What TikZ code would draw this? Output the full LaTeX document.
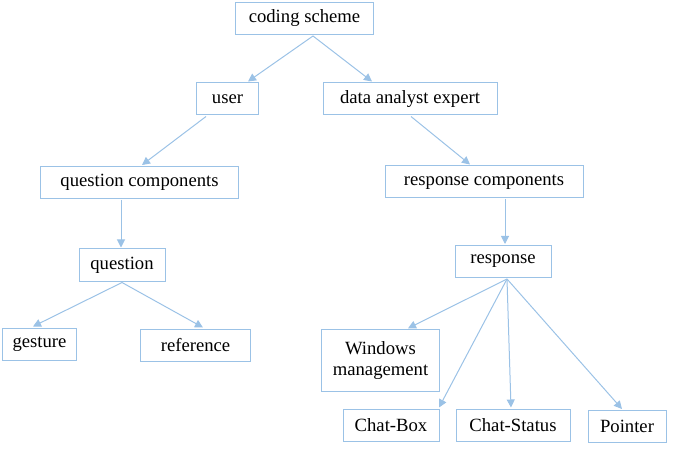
\documentclass[tikz,border=0pt]{standalone}
\usepackage{fontspec}
\setmainfont{Liberation Serif}
\usepackage{tikz}
\usetikzlibrary{arrows.meta,calc}
\definecolor{boxblue}{RGB}{155,194,230}

\begin{document}
\begin{tikzpicture}
[x=0.75pt,y=-0.75pt,->,>={Triangle[length=6pt,width=6pt]},line width=0.75pt,
  box/.style={draw=boxblue,rectangle,inner sep=0pt,align=center,
    font=\fontsize{14}{16}\selectfont,minimum height=24pt}]
  \useasboundingbox (0,0) rectangle (675,449);

  \node[box,minimum width=103pt] (cs) at (304.5,18.5) {coding scheme};

  \node[box,minimum width=46pt] (user) at (227.5,99) {user};
  \node[box,minimum width=130.5pt] (dae) at (410,99) {data analyst expert};

  \node[box,minimum width=149pt] (qc) at (139.5,182.5) {question components};
  \node[box,minimum width=148.5pt] (rc) at (484,182) {response components};

  \node[box,minimum width=64.5pt] (q) at (122,265) {question};
  \node[box,minimum width=72pt] (resp) at (503,261.5) {response};

  \node[box,minimum width=56pt] (gest) at (39.5,344) {gesture};
  \node[box,minimum width=83pt] (ref) at (195.5,345) {reference};

  \node[box,minimum width=88pt,minimum height=46pt] (win) at (380.5,360.5) {Windows\\management};
  \node[box,minimum width=72pt] (cbox) at (391,425) {Chat-Box};
  \node[box,minimum width=85.5pt] (cstat) at (513,425) {Chat-Status};
  \node[box,minimum width=58.5pt] (ptr) at (627,426.5) {Pointer};

  \foreach \from/\a/\to/\b in {cs/8.5/user/20.5, cs/8.5/dae/-38,
      user/-21.5/qc/2.5, dae/1/rc/-14,
      qc/-18.5/q/-1, rc/21/resp/2,
      q/0/gest/-6.5, q/0/ref/7.5,
      resp/4/win/27.5, resp/4/cbox/48, resp/4/cstat/-2, resp/4/ptr/-5}
    \draw[boxblue] ($(\from.south)+(\a,1)$) -- ($(\to.north)+(\b,-1)$);

\end{tikzpicture}
\end{document}
